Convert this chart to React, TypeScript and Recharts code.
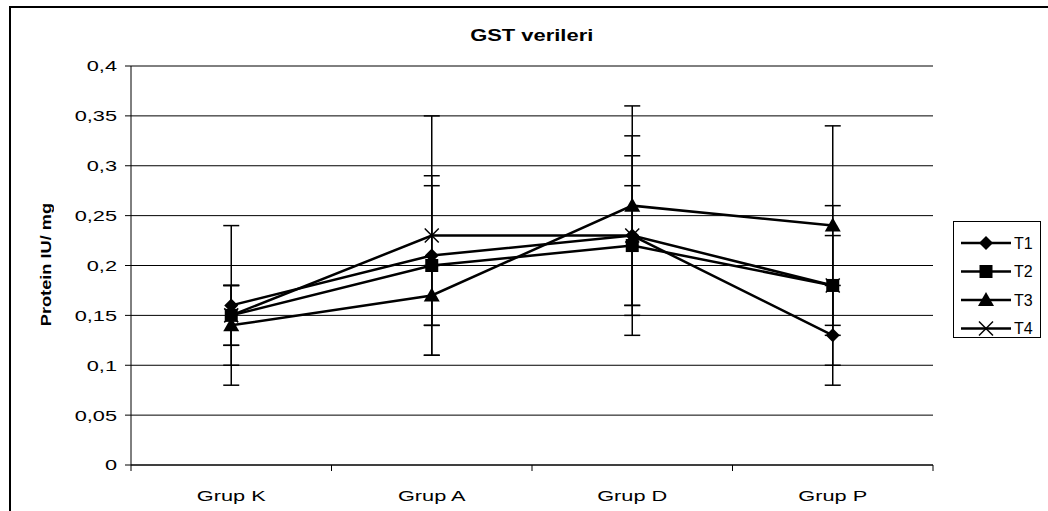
import { LineChart, Line, XAxis, YAxis, CartesianGrid, ErrorBar } from "recharts";

const groups = ["Grup K", "Grup A", "Grup D", "Grup P"];
const t1 = [0.16, 0.21, 0.23, 0.13];
const t1Err = [0.08, 0.07, 0.08, 0.05];
const t2 = [0.15, 0.2, 0.22, 0.18];
const t2Err = [0.03, 0.09, 0.06, 0.08];
const t3 = [0.14, 0.17, 0.26, 0.24];
const t3Err = [0.04, 0.03, 0.1, 0.1];
const t4 = [0.15, 0.23, 0.23, 0.18];
const t4Err = [0.03, 0.12, 0.1, 0.05];
const yTicks = [0, 0.05, 0.1, 0.15, 0.2, 0.25, 0.3, 0.35, 0.4];

const data = groups.map((g, i) => ({
  group: g,
  t1: t1[i], t1e: t1Err[i],
  t2: t2[i], t2e: t2Err[i],
  t3: t3[i], t3e: t3Err[i],
  t4: t4[i], t4e: t4Err[i],
}));

const W = 1048;
const H = 511;
const PLOT_LEFT = 131;
const PLOT_RIGHT = 933;
const BAND = (PLOT_RIGHT - PLOT_LEFT) / groups.length;
const FONT = "'Liberation Sans', Arial, sans-serif";

type Shape = "diamond" | "square" | "triangle" | "cross";

function marker(shape: Shape, cx: number, cy: number, key?: string) {
  if (shape === "diamond")
    return <polygon key={key} points={`${cx},${cy - 7} ${cx + 7},${cy} ${cx},${cy + 7} ${cx - 7},${cy}`} fill="#000" />;
  if (shape === "square")
    return <rect key={key} x={cx - 6.5} y={cy - 6.5} width={13} height={13} fill="#000" />;
  if (shape === "triangle")
    return <polygon key={key} points={`${cx},${cy - 8} ${cx + 8},${cy + 6} ${cx - 8},${cy + 6}`} fill="#000" />;
  return (
    <g key={key}>
      <line x1={cx - 7} y1={cy - 7} x2={cx + 7} y2={cy + 7} stroke="#000" strokeWidth={1.5} />
      <line x1={cx - 7} y1={cy + 7} x2={cx + 7} y2={cy - 7} stroke="#000" strokeWidth={1.5} />
    </g>
  );
}

const dotFor = (shape: Shape) => (p: any) => marker(shape, p.cx, p.cy, `${shape}-${p.index}`);

const YTick = ({ x, y, payload }: any) => (
  <g transform={`translate(${x},${y})`}>
    <text transform="scale(1.45,1)" textAnchor="end" dy="0.36em" fontSize={15} fill="#000" fontFamily={FONT}>
      {String(payload.value).replace(".", ",")}
    </text>
  </g>
);

const XTick = ({ x, y, payload, index }: any) => (
  <g>
    <line x1={x - BAND / 2} x2={x - BAND / 2} y1={y} y2={y + 6} stroke="#000" />
    {index === groups.length - 1 && <line x1={x + BAND / 2} x2={x + BAND / 2} y1={y} y2={y + 6} stroke="#000" />}
    <g transform={`translate(${x},${y + 36})`}>
      <text transform="scale(1.45,1)" textAnchor="middle" fontSize={15} fill="#000" fontFamily={FONT}>
        {payload.value}
      </text>
    </g>
  </g>
);

const legendItems: { name: string; shape: Shape }[] = [
  { name: "T1", shape: "diamond" },
  { name: "T2", shape: "square" },
  { name: "T3", shape: "triangle" },
  { name: "T4", shape: "cross" },
];

export default function App() {
  return (
    <div style={{ position: "absolute", left: 0, top: 0, width: W, height: H, overflow: "hidden", background: "#fff", fontFamily: FONT }}>
      <div style={{ position: "absolute", left: 9, top: 6, width: W + 20, height: H + 20, border: "2px solid #000" }} />
      <div style={{ position: "absolute", left: 0, top: 27, width: 1064, textAlign: "center", fontSize: 17, fontWeight: "bold", lineHeight: "17px" }}>
        <span style={{ display: "inline-block", transform: "scaleX(1.29)" }}>GST verileri</span>
      </div>
      <div style={{ position: "absolute", left: 46, top: 265, width: 0, height: 0 }}>
        <div style={{ position: "absolute", left: -100, top: -8, width: 200, textAlign: "center", fontSize: 14, fontWeight: "bold", lineHeight: "16px", transform: "rotate(-90deg)", whiteSpace: "nowrap" }}>
          <span style={{ display: "inline-block", transform: "scaleX(1.3)" }}>Protein IU/ mg</span>
        </div>
      </div>
      <LineChart width={W} height={H} data={data} margin={{ top: 66, right: W - PLOT_RIGHT, bottom: 0, left: PLOT_LEFT - 60 }} style={{ position: "absolute", left: 0, top: 0 }}>
        <CartesianGrid vertical={false} stroke="#000" strokeWidth={1} />
        <XAxis dataKey="group" scale="band" height={46} stroke="#000" tickSize={0} tickMargin={0} tick={<XTick />} interval={0} />
        <YAxis width={60} domain={[0, 0.4]} ticks={yTicks} stroke="#000" tickSize={6} tickMargin={8} tick={<YTick />} />
        <Line dataKey="t1" stroke="#000" strokeWidth={2.5} dot={dotFor("diamond")} isAnimationActive={false}>
          <ErrorBar dataKey="t1e" width={8} stroke="#000" strokeWidth={1.5} direction="y" />
        </Line>
        <Line dataKey="t2" stroke="#000" strokeWidth={2.5} dot={dotFor("square")} isAnimationActive={false}>
          <ErrorBar dataKey="t2e" width={8} stroke="#000" strokeWidth={1.5} direction="y" />
        </Line>
        <Line dataKey="t3" stroke="#000" strokeWidth={2.5} dot={dotFor("triangle")} isAnimationActive={false}>
          <ErrorBar dataKey="t3e" width={8} stroke="#000" strokeWidth={1.5} direction="y" />
        </Line>
        <Line dataKey="t4" stroke="#000" strokeWidth={2.5} dot={dotFor("cross")} isAnimationActive={false}>
          <ErrorBar dataKey="t4e" width={8} stroke="#000" strokeWidth={1.5} direction="y" />
        </Line>
      </LineChart>
      <div style={{ position: "absolute", left: 953, top: 221, width: 86, height: 115, border: "1px solid #000", background: "#fff" }}>
        <svg width={86} height={115} style={{ position: "absolute", left: 0, top: 0 }}>
          {legendItems.map((it, i) => {
            const cy = 21 + i * 28.5;
            return (
              <g key={it.name}>
                <line x1={7} x2={57} y1={cy} y2={cy} stroke="#000" strokeWidth={2.5} />
                {marker(it.shape, 32, cy)}
                <text x={60} y={cy} dy="0.36em" fontSize={16} fontFamily={FONT} fill="#000">{it.name}</text>
              </g>
            );
          })}
        </svg>
      </div>
    </div>
  );
}
